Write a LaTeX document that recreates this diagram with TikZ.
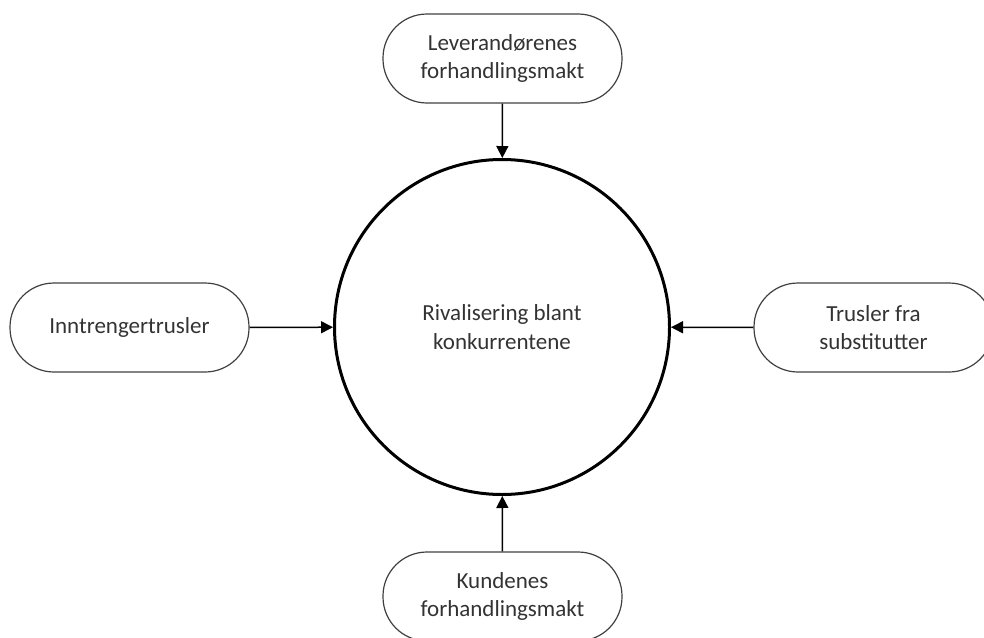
\documentclass[tikz,border=0pt]{standalone}
\usepackage{fontspec}
\setmainfont{Carlito}
\usetikzlibrary{arrows.meta}
\definecolor{txt}{HTML}{333333}
\definecolor{edge}{HTML}{404040}
\begin{document}
\begin{tikzpicture}[x=1pt,y=-1pt,
  force/.style={draw=edge,line width=1.2pt,rounded corners=44pt,minimum width=239pt,minimum height=89pt,
    inner sep=0pt,align=center,text=txt,font=\fontsize{23}{28.5}\selectfont},
  hub/.style={circle,draw=black,line width=3pt,minimum size=335pt,inner sep=0pt,align=center,
    text=txt,font=\fontsize{23}{28.5}\selectfont},
  link/.style={line width=1.5pt,-{Triangle[length=12pt,width=12pt]}}]
\useasboundingbox (0,0) rectangle (984,637);
\clip (0,0) rectangle (984,637);
\node[hub] (c) at (502,327) {Rivalisering blant\\konkurrentene};
\node[force] (top) at (502.5,58.5) {Leverandørenes\\forhandlingsmakt};
\node[force] (left) at (129.5,327.5) {Inntrengertrusler};
\node[force] (right) at (873.5,327.5) {Trusler fra\\substitutter};
\node[force] (bot) at (502.5,596.5) {Kundenes\\forhandlingsmakt};
\draw[link] (top) -- (c);
\draw[link] (left) -- (c);
\draw[link] (right) -- (c);
\draw[link] (bot) -- (c);
\end{tikzpicture}
\end{document}
